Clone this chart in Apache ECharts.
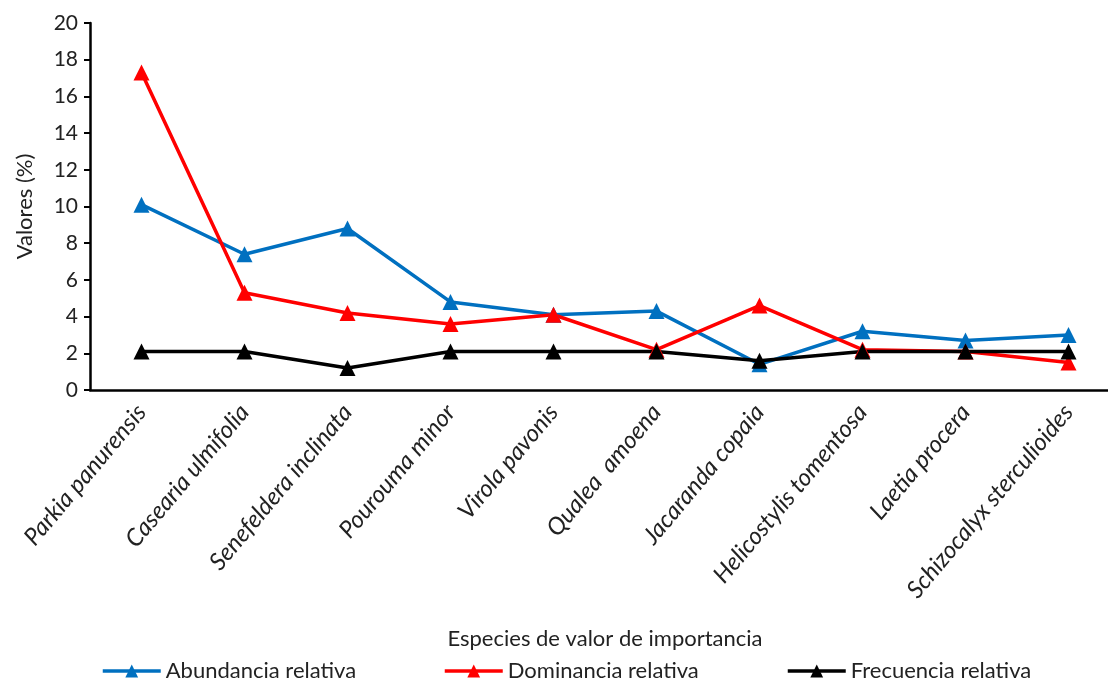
<!DOCTYPE html>
<html>
<head>
<meta charset="utf-8">
<script src="https://cdn.jsdelivr.net/npm/echarts@6/dist/echarts.min.js"></script>
<style>
  html, body { margin: 0; padding: 0; background: #fff; }
  #chart { width: 1108px; height: 679px; }
</style>
</head>
<body>
<div id="chart"></div>
<script>
// Species on the x axis
const species = [
  "Parkia panurensis", "Casearia ulmifolia", "Senefeldera inclinata", "Pourouma minor",
  "Virola pavonis", "Qualea  amoena", "Jacaranda copaia", "Helicostylis tomentosa",
  "Laetia procera", "Schizocalyx sterculioides"
]

// Series values (%)
const abundancia = [10.1, 7.4, 8.8, 4.8, 4.1, 4.3, 1.4, 3.2, 2.7, 3.0]
const dominancia = [17.3, 5.3, 4.2, 3.6, 4.1, 2.2, 4.6, 2.2, 2.1, 1.5]
const frecuencia = [2.1, 2.1, 1.2, 2.1, 2.1, 2.1, 1.6, 2.1, 2.1, 2.1]

const yTicks = [0, 20, 2] // min, max, interval

const font = "Lato, 'Open Sans', sans-serif"

const chart = echarts.init(document.getElementById("chart"))

const makeSeries = (name, data, color) => ({
  name,
  type: "line",
  data,
  symbol: "triangle",
  symbolSize: 16,
  lineStyle: { color, width: 3.5 },
  itemStyle: { color },
  z: 3,
})

const legendBase = {
  top: 655,
  itemWidth: 58,
  itemHeight: 16,
  itemGap: 4,
  lineStyle: { width: 3.5 },
  textStyle: { fontFamily: font, fontSize: 22, color: "#222" },
}

const option = {
  animation: false,
  backgroundColor: "#fff",
  grid: { left: 90, top: 23, width: 1030, height: 367, outerBoundsMode: "none", containLabel: false },
  legend: [
    { ...legendBase, left: 96, data: ["Abundancia relativa"] },
    { ...legendBase, left: 438, data: ["Dominancia relativa"] },
    { ...legendBase, left: 781, data: ["Frecuencia relativa"] },
  ],
  xAxis: {
    type: "category",
    data: species,
    boundaryGap: true,
    name: "Especies de valor de importancia",
    nameLocation: "middle",
    nameGap: 238,
    nameTextStyle: { fontFamily: font, fontSize: 22, color: "#222" },
    axisLine: { lineStyle: { color: "#000", width: 2.5 } },
    axisTick: { show: false },
    axisLabel: {
      rotate: 50,
      fontStyle: "italic",
      fontFamily: font,
      fontSize: 24,
      color: "#222",
      margin: 18,
      interval: 0,
    },
  },
  yAxis: {
    type: "value",
    min: yTicks[0],
    max: yTicks[1],
    interval: yTicks[2],
    name: "Valores (%)",
    nameLocation: "middle",
    nameGap: 54,
    nameRotate: 90,
    nameTextStyle: { fontFamily: font, fontSize: 22, color: "#222" },
    axisLine: { show: true, lineStyle: { color: "#000", width: 2.5 } },
    axisTick: { show: true, inside: false, length: 6, lineStyle: { color: "#000", width: 2 } },
    splitLine: { show: false },
    axisLabel: { fontFamily: font, fontSize: 21, color: "#222", margin: 12 },
  },
  series: [
    makeSeries("Abundancia relativa", abundancia, "#0070c0"),
    makeSeries("Dominancia relativa", dominancia, "#ff0000"),
    makeSeries("Frecuencia relativa", frecuencia, "#000000"),
  ],
}

chart.setOption(option)
</script>
</body>
</html>
